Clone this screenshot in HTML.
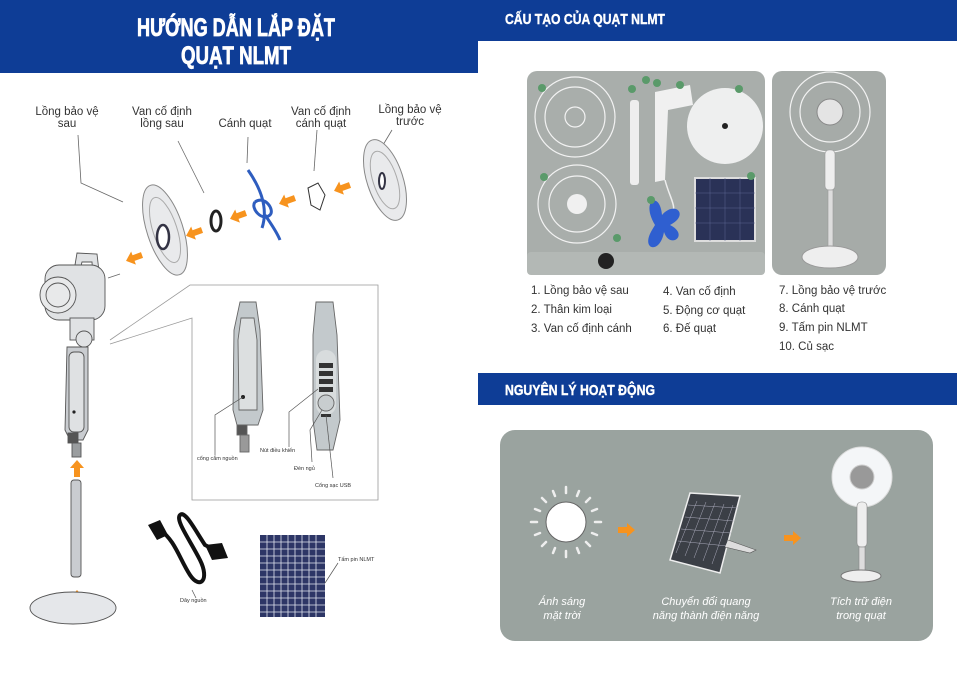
<!DOCTYPE html>
<html><head><meta charset="utf-8"><style>
html,body{margin:0;padding:0;background:#fff;}
svg{display:block;font-family:"Liberation Sans","DejaVu Sans",sans-serif;}
</style></head><body>
<svg width="957" height="675" viewBox="0 0 957 675" xmlns="http://www.w3.org/2000/svg">
<defs>
<g id="oarr"><path d="M0,-3 L9,-3 L9,-7 L17,0 L9,7 L9,3 L0,3 Z" fill="#f7931e"/></g>
</defs>
<rect x="0" y="0" width="478" height="73" fill="#0e3d96"/>
<rect x="478" y="0" width="479" height="41" fill="#0e3d96"/>
<text x="236" y="36" text-anchor="middle" fill="#fff" stroke="#fff" stroke-width="0.8" font-weight="bold" font-size="25" textLength="198" lengthAdjust="spacingAndGlyphs">HƯỚNG DẪN LẮP ĐẶT</text>
<text x="236" y="64" text-anchor="middle" fill="#fff" stroke="#fff" stroke-width="0.8" font-weight="bold" font-size="25" textLength="110" lengthAdjust="spacingAndGlyphs">QUẠT NLMT</text>
<text x="505" y="24" fill="#fff" stroke="#fff" stroke-width="0.4" font-weight="bold" font-size="15" textLength="160" lengthAdjust="spacingAndGlyphs">CẤU TẠO CỦA QUẠT NLMT</text>

<g font-size="11.5" fill="#333" text-anchor="middle">
<text x="67" y="115">Lồng bảo vệ</text><text x="67" y="127">sau</text>
<text x="162" y="115">Van cố định</text><text x="162" y="127">lồng sau</text>
<text x="245" y="127">Cánh quạt</text>
<text x="321" y="115">Van cố định</text><text x="321" y="127">cánh quạt</text>
<text x="410" y="113">Lồng bảo vệ</text><text x="410" y="125">trước</text>
</g>
<g stroke="#666" stroke-width="0.8" fill="none">
<path d="M78,135 L81,183 L123,202"/>
<path d="M178,141 L204,193"/>
<path d="M248,137 L247,163"/>
<path d="M317,130 L314,171"/>
<path d="M392,130 L380,150"/>
<path d="M108,278 L120,274"/>
<path d="M110,340 L190,285 L378,285 L378,500 L192,500 L192,318 L110,344" stroke="#999"/>
</g>
<ellipse cx="165" cy="230" rx="18" ry="47" transform="rotate(-18 165 230)" fill="#e9eaec" stroke="#888"/>
<ellipse cx="165" cy="230" rx="12" ry="34" transform="rotate(-18 165 230)" fill="none" stroke="#aaa"/>
<ellipse cx="163" cy="237" rx="6" ry="12" fill="#fff" stroke="#334" stroke-width="2.5"/>
<ellipse cx="216" cy="221" rx="5" ry="10" fill="none" stroke="#222" stroke-width="3"/>
<path d="M248,170 C262,190 268,210 262,228 M255,202 C265,195 275,210 270,215 C262,222 250,208 255,202 M265,215 C272,225 278,235 280,240" stroke="#2e5dbf" stroke-width="3" fill="none"/>
<path d="M308,188 L318,183 L325,195 L320,210 L311,205 Z" fill="#fff" stroke="#333"/>
<ellipse cx="385" cy="180" rx="18" ry="42" transform="rotate(-18 385 180)" fill="#e9eaec" stroke="#888"/>
<ellipse cx="385" cy="180" rx="12" ry="30" transform="rotate(-18 385 180)" fill="none" stroke="#aaa"/>
<ellipse cx="382" cy="181" rx="3" ry="8" fill="#fff" stroke="#334" stroke-width="2"/>
<use href="#oarr" transform="translate(350,185) rotate(160)"/>
<use href="#oarr" transform="translate(295,198) rotate(160)"/>
<use href="#oarr" transform="translate(246,213) rotate(160)"/>
<use href="#oarr" transform="translate(202,230) rotate(160)"/>
<use href="#oarr" transform="translate(142,255) rotate(160)"/>
<use href="#oarr" transform="translate(77,477) rotate(-90)"/>
<use href="#oarr" transform="translate(77,607) rotate(-90)"/>
<g stroke="#555" stroke-width="0.9" fill="#e0e2e4">
<path d="M75,265 L77,253 L97,254 L100,280 L93,280 L92,262 L82,262 L80,270 Z"/>
<rect x="45" y="265" width="60" height="55" rx="14"/>
<circle cx="58" cy="295" r="18" fill="#e8e9ea"/>
<circle cx="58" cy="295" r="12" fill="#e8e9ea"/>
<rect x="70" y="318" width="24" height="22"/>
<circle cx="84" cy="339" r="8"/>
<path d="M67,347 L88,347 L88,430 L83,440 L70,440 L65,430 Z" fill="#c9ccd0"/>
<rect x="69" y="352" width="15" height="80" rx="5" fill="#dfe1e3"/>
<rect x="68" y="433" width="10" height="10" fill="#555"/>
<rect x="72" y="443" width="9" height="14" fill="#9a9d9f"/>
<rect x="71" y="480" width="10" height="97" rx="3" fill="#c9ccd0"/>
<ellipse cx="73" cy="608" rx="43" ry="16" fill="#e5e7ea"/>
</g>
<circle cx="74" cy="412" r="1.6" fill="#222"/>
<g stroke="#666" stroke-width="0.9">
<path d="M240,302 L256,302 L260,330 L263,410 L258,425 L237,425 L233,410 L234,330 Z" fill="#c3c9cc"/>
<path d="M241,318 L254,318 L257,340 L257,410 L239,410 L238,340 Z" fill="#dcdfe0"/>
<rect x="237" y="425" width="10" height="10" fill="#555"/>
<rect x="240" y="435" width="9" height="17" fill="#999"/>
<path d="M316,302 L333,302 L337,335 L340,420 L333,450 L317,450 L313,420 L313,335 Z" fill="#c3c9cc"/>
<rect x="316" y="350" width="20" height="65" rx="10" fill="#d8dcdd" stroke="none"/>
<circle cx="326" cy="403" r="8" fill="#c8cdcf"/>
</g>
<g fill="#333"><rect x="319" y="363" width="14" height="5"/><rect x="319" y="371" width="14" height="5"/><rect x="319" y="379" width="14" height="5"/><rect x="319" y="387" width="14" height="5"/><rect x="321" y="414" width="10" height="3"/></g>
<circle cx="243" cy="397" r="2" fill="#222"/>
<g stroke="#555" stroke-width="0.7" fill="none">
<path d="M243,397 L215,415 L215,455"/>
<path d="M318,389 L289,412 L289,447"/>
<path d="M322,410 L310,430 L312,462"/>
<path d="M326,415 L333,478"/>
</g>
<g font-size="5.5" fill="#333">
<text x="197" y="460">cổng cắm nguồn</text>
<text x="260" y="452">Nút điều khiển</text>
<text x="294" y="470">Đèn ngủ</text>
<text x="315" y="487">Cổng sạc USB</text>
<text x="180" y="602">Dây nguồn</text>
<text x="338" y="561">Tấm pin NLMT</text>
</g>
<g stroke="#111" fill="none" stroke-width="4">
<path d="M160,530 C175,540 180,560 190,575 C200,590 210,580 200,560 C190,540 175,520 180,515 C185,510 195,530 205,545 L225,555"/>
</g>
<path d="M148,525 L160,520 L168,535 L157,540 Z M205,545 L222,543 L228,558 L212,560 Z" fill="#111"/>
<path d="M192,590 L196,598" stroke="#555" stroke-width="0.7"/>
<rect x="260" y="535" width="65" height="82" fill="#2d3666"/>
<g stroke="#dfe3ee" stroke-width="0.8">
<path d="M267,535V617M274,535V617M281,535V617M288,535V617M295,535V617M302,535V617M309,535V617M316,535V617"/>
<path d="M260,542H325M260,549H325M260,556H325M260,563H325M260,570H325M260,577H325M260,584H325M260,591H325M260,598H325M260,605H325M260,612H325"/>
</g>
<path d="M325,583 L338,563" stroke="#555" stroke-width="0.7"/>

<rect x="527" y="71" width="238" height="204" rx="10" fill="#a9aeab"/>
<rect x="772" y="71" width="114" height="204" rx="10" fill="#a6aba8"/>
<rect x="527" y="252" width="238" height="23" fill="#b3b8b5" rx="4"/>
<g fill="none" stroke="#f2f2f2" stroke-width="1.2">
<circle cx="575" cy="117" r="40"/><circle cx="575" cy="117" r="30"/><circle cx="575" cy="117" r="10"/>
<circle cx="577" cy="204" r="39"/><circle cx="577" cy="204" r="28"/>
<circle cx="830" cy="112" r="40"/><circle cx="830" cy="112" r="30"/>
</g>
<circle cx="577" cy="204" r="10" fill="#f0f0f0"/>
<circle cx="725" cy="126" r="38" fill="#eeefef"/><circle cx="725" cy="126" r="3" fill="#222"/>
<rect x="630" y="100" width="9" height="85" rx="3" fill="#eeeeee"/>
<path d="M655,92 L690,85 L693,105 L668,110 L665,180 L655,182 Z" fill="#f0f0f0"/>
<path d="M665,180 C670,200 680,210 668,215" stroke="#eee" fill="none" stroke-width="1.5"/>
<rect x="695" y="178" width="60" height="63" fill="#2a3257" stroke="#ddd" stroke-width="2"/>
<g stroke="#5a6590" stroke-width="0.5"><path d="M710,178V241M725,178V241M740,178V241M695,193H755M695,208H755M695,223H755"/></g>
<path d="M655,225 C640,200 660,190 662,215 C675,200 690,215 670,225 C690,235 670,250 664,232 C660,255 640,250 652,230 Z" fill="#2f5fd0"/>
<circle cx="606" cy="261" r="8" fill="#222"/>
<circle cx="830" cy="112" r="13" fill="#e4e4e4" stroke="#888"/>
<rect x="825" y="150" width="10" height="40" rx="4" fill="#eee" stroke="#999" stroke-width="0.6"/>
<rect x="828" y="190" width="5" height="60" fill="#ddd" stroke="#999" stroke-width="0.6"/>
<ellipse cx="830" cy="257" rx="28" ry="11" fill="#eee" stroke="#999"/>
<g fill="#5a9a6a">
<circle cx="542" cy="88" r="4"/><circle cx="632" cy="89" r="4"/><circle cx="646" cy="80" r="4"/><circle cx="657" cy="83" r="4"/><circle cx="680" cy="85" r="4"/><circle cx="739" cy="89" r="4"/><circle cx="544" cy="177" r="4"/><circle cx="751" cy="176" r="4"/><circle cx="651" cy="200" r="4"/><circle cx="617" cy="238" r="4"/>
</g>

<g font-size="11.5" fill="#333">
<text x="531" y="294">1. Lồng bảo vệ sau</text>
<text x="531" y="313">2. Thân kim loại</text>
<text x="531" y="332">3. Van cố định cánh</text>
<text x="663" y="295">4. Van cố định</text>
<text x="663" y="314">5. Động cơ quạt</text>
<text x="663" y="332">6. Đế quạt</text>
<text x="779" y="294">7. Lồng bảo vệ trước</text>
<text x="779" y="312">8. Cánh quạt</text>
<text x="779" y="331">9. Tấm pin NLMT</text>
<text x="779" y="350">10. Củ sạc</text>
</g>

<rect x="478" y="373" width="479" height="32" fill="#0e3d96"/>
<text x="505" y="395" fill="#fff" stroke="#fff" stroke-width="0.4" font-weight="bold" font-size="15" textLength="150" lengthAdjust="spacingAndGlyphs">NGUYÊN LÝ HOẠT ĐỘNG</text>
<rect x="500" y="430" width="433" height="211" rx="15" fill="#9aa39f"/>
<circle cx="566" cy="522" r="20" fill="#fff" stroke="#666"/>
<g stroke="#eee" stroke-width="2.5" stroke-linecap="round">
<path d="M566,493v-6M566,551v6M537,522h-6M595,522h6M546,502l-4,-4M586,542l4,4M586,502l4,-4M546,542l-4,4M555,496l-2,-5M577,548l2,5M577,496l2,-5M555,548l-2,5M540,511l-5,-2M592,533l5,2M592,511l5,-2M540,533l-5,2"/>
</g>
<use href="#oarr" transform="translate(618,530)"/>
<use href="#oarr" transform="translate(784,538)"/>
<path d="M690,493 L740,496 L720,573 L670,560 Z" fill="#3b3f46" stroke="#eee" stroke-width="1.5"/>
<g stroke="#aab" stroke-width="0.5"><path d="M697,501L676,553M706,502L685,556M715,503L694,558M724,504L703,561M733,505L712,564M688,505L738,508M685,517L734,521M681,529L731,533M678,541L727,546"/></g>
<path d="M728,540 L756,550 L750,553 L725,547" fill="#ddd" stroke="#555" stroke-width="0.6"/>
<circle cx="862" cy="477" r="30" fill="#f4f6f8" stroke="#ddd"/>
<circle cx="862" cy="477" r="12" fill="#999" stroke="#ccc"/>
<rect x="857" y="502" width="10" height="45" rx="4" fill="#eee" stroke="#888" stroke-width="0.6"/>
<rect x="859" y="547" width="6" height="30" fill="#ddd" stroke="#888" stroke-width="0.6"/>
<ellipse cx="861" cy="576" rx="20" ry="6" fill="#eee" stroke="#777"/>
<g font-size="11" fill="#fff" font-style="italic" text-anchor="middle">
<text x="562" y="605">Ánh sáng</text><text x="562" y="619">mặt trời</text>
<text x="706" y="605">Chuyển đổi quang</text><text x="706" y="619">năng thành điện năng</text>
<text x="861" y="605">Tích trữ điện</text><text x="861" y="619">trong quạt</text>
</g>
</svg>
</body></html>
